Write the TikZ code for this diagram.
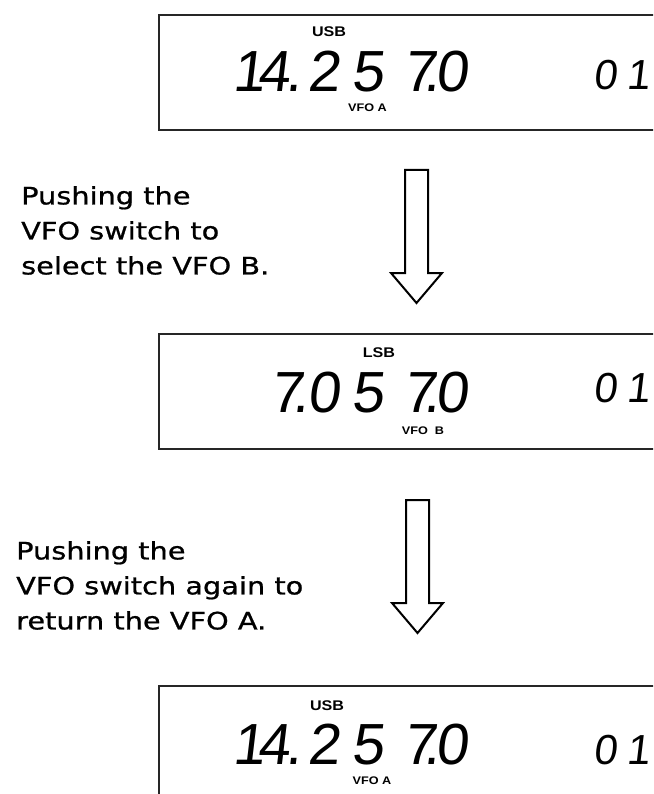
\documentclass[tikz,border=0pt]{standalone}
\usepackage{fontspec}
\setmainfont{DejaVu Sans}
\newfontfamily\capfont{DejaVu Sans}[FakeStretch=1.2, FakeBold=0.8]
\newfontfamily\lcdfont{Liberation Sans}[FakeSlant=0.12]
\newfontfamily\tagfont{Liberation Sans}[FakeStretch=1.15]
\tikzset{
  lcdbox/.style={draw=black!85, line width=1.8pt, minimum width=560pt, minimum height=115pt, anchor=north west, inner sep=0pt},
  bigdigits/.style={font=\lcdfont\fontsize{58}{58}\selectfont, anchor=base west, inner sep=0pt},
  smalldigits/.style={font=\lcdfont\fontsize{42}{42}\selectfont, anchor=base west, inner sep=0pt},
  modetag/.style={font=\tagfont\bfseries\fontsize{14}{14}\selectfont, inner sep=0pt},
  vfotag/.style={font=\tagfont\bfseries\fontsize{11}{11}\selectfont, inner sep=0pt},
  caption/.style={font=\capfont\fontsize{24}{35}\selectfont, align=left, anchor=north west, inner sep=0pt},
  arrowline/.style={draw=black, line width=2pt, line join=miter, fill=white},
  blockarrow/.pic={\draw[arrowline] (-11.5,0) -- (-11.5,103) -- (-25.5,103) -- (0,133) -- (25.5,103) -- (11.5,103) -- (11.5,0) -- cycle;}
}
\begin{document}
\begin{tikzpicture}[x=1pt,y=-1pt]
\useasboundingbox (0,0) rectangle (653,794);
\clip (0,0) rectangle (653,794);
% display 1
\node[lcdbox] (d1) at (158,14) {};
\node[modetag] (m1) at (329,32) {USB};
\node[bigdigits] (f1) at (232,92) {1\kern-7.3pt 4\kern-4pt.\kern5.6pt 2\kern11.7pt 5\kern19.7pt 7\kern-12pt.\kern-4.4pt 0};
\node[smalldigits] (c1) at (593,90) {0\kern9.6pt 1};
\node[vfotag] (v1) at (367.5,108) {VFO A};
% arrow 1 and caption 1
\pic (a1) at (416.5,170) {blockarrow};
\node[caption] (t1) at (21,186) {Pushing the\\VFO switch to\\select the VFO B.};
% display 2
\node[lcdbox] (d2) at (158,333) {};
\node[modetag] (m2) at (379,353) {LSB};
\node[bigdigits] (f2) at (270,412) {7\kern-10pt.\kern-1.4pt 0\kern11.7pt 5\kern19.7pt 7\kern-12pt.\kern-4.4pt 0};
\node[smalldigits] (c2) at (593,402) {0\kern9.6pt 1};
\node[vfotag] (v2) at (423,431) {VFO\ \ B};
% arrow 2 and caption 2
\pic (a2) at (417.5,500) {blockarrow};
\node[caption] (t2) at (16,541) {Pushing the\\VFO switch again to\\return the VFO A.};
% display 3
\node[lcdbox] (d3) at (158,685) {};
\node[modetag] (m3) at (327,706) {USB};
\node[bigdigits] (f3) at (232,764) {1\kern-7.3pt 4\kern-4pt.\kern5.6pt 2\kern11.7pt 5\kern19.7pt 7\kern-12pt.\kern-4.4pt 0};
\node[smalldigits] (c3) at (593,764) {0\kern9.6pt 1};
\node[vfotag] (v3) at (372,781) {VFO A};
\end{tikzpicture}
\end{document}
